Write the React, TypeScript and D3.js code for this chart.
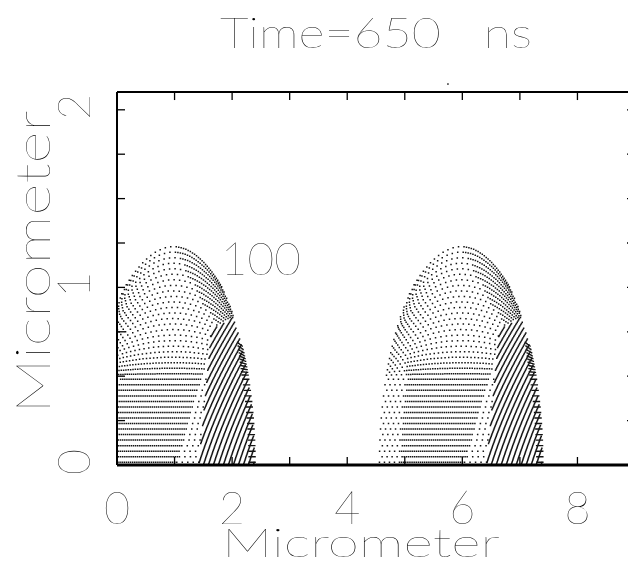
import React, { useMemo } from 'react';
import * as d3 from 'd3';

const WIDTH = 628;
const HEIGHT = 565;

// Axis extents (micrometers)
const X_DOMAIN: [number, number] = [0, 9];
const Y_DOMAIN: [number, number] = [0, 2.1];
const X_TICKS = [0, 1, 2, 3, 4, 5, 6, 7, 8, 9];
const Y_TICKS = [0, 0.25, 0.5, 0.75, 1, 1.25, 1.5, 1.75, 2];
const X_TICK_LABELS = [0, 2, 4, 6, 8];
const Y_TICK_LABELS = [0, 1, 2];

const TITLE = 'Time=650\u00a0\u00a0\u00a0ns';
const X_LABEL = 'Micrometer';
const Y_LABEL = 'Micrometer';

// Two marker-particle domes: centre position, half width, height (micrometers)
const DOME_CENTERS = [0.98, 5.98];
const DOME_HALF_WIDTH = 1.42;
const DOME_HEIGHT = 1.245;
const MARKER_ROWS = 40;

// Marker rows: apex height -> height where the row meets the free surface
// (both as fractions of the dome height)
const ROW_APEX = [0, 0.4, 0.6, 0.8, 0.9, 1];
const ROW_SURFACE = [0, 0.4, 0.5, 0.62, 0.7, 0.82];

// Contour label
const CONTOUR_LABELS = [{ text: '100', x: 2.5, y: 1.165 }];

// Isolated particles
const LONE_PARTICLES = [{ x: 5.75, y: 2.145 }];

const FONT = 'Lato, sans-serif';

type Pt = [number, number];

const STRIPE_TOP = 0.62;
const surfaceOf = d3.scaleLinear().domain(ROW_APEX).range(ROW_SURFACE);

const seamS = (v: number) => 0.31 + 0.25 * v;
const denseRight = (v: number) => 0.02 + 0.75 * v;
const denseLeft = (v: number) => -0.78 + 0.2 * v;
const urSeam = (v: number) => 1.5 * (1 - v) - 0.05;
const stripeTop = (u: number) => STRIPE_TOP + 0.2 * Math.max(0, u - 0.5);
const smooth = (e0: number, e1: number, x: number) => {
  const t = Math.min(1, Math.max(0, (x - e0) / (e1 - e0)));
  return t * t * (3 - 2 * t);
};

function spacing(u: number, v: number): number | null {
  if (v < stripeTop(u) && u > seamS(v)) return null;
  if (v > 0.5 && u > urSeam(v)) return 2.5;
  if (v < 0.6 && u > denseRight(v)) return 5.5;
  if (u < denseLeft(v)) return 5;
  return 2.1 + 3.4 * smooth(0.4, 0.58, v);
}

function buildDome(
  xc: number,
  xs: d3.ScaleLinear<number, number>,
  ys: d3.ScaleLinear<number, number>
) {
  const rows: Pt[] = [];
  const edges: Pt[] = [];
  const stripes: Pt[] = [];
  const A = DOME_HALF_WIDTH;
  const B = DOME_HEIGHT;
  const aPx = xs(xc + A) - xs(xc);
  const bPx = ys(0) - ys(B);
  const toPx = (u: number, v: number): Pt => [xs(xc + A * u), ys(B * v)];

  for (let j = 0; j < MARKER_ROWS; j++) {
    const m = (j + 0.5) / MARKER_ROWS;
    const ve = surfaceOf(m);
    const ue = Math.sqrt(1 - ve * ve);
    const rowV = (u: number) => ve + (m - ve) * Math.max(0, 1 - (u / ue) * (u / ue));
    const M = 400;
    const us: number[] = [];
    const vs: number[] = [];
    const pts: Pt[] = [];
    const cum: number[] = [0];
    for (let i = 0; i <= M; i++) {
      const u = -ue + (2 * ue * i) / M;
      const v = rowV(u);
      us.push(u);
      vs.push(v);
      pts.push(toPx(u, v));
      if (i > 0)
        cum.push(
          cum[i - 1] +
            Math.hypot(pts[i][0] - pts[i - 1][0], pts[i][1] - pts[i - 1][1])
        );
    }
    const L = cum[M];
    const at = (s: number): [number, number] => {
      let lo = 0;
      let hi = M;
      while (hi - lo > 1) {
        const mid = (lo + hi) >> 1;
        if (cum[mid] <= s) lo = mid;
        else hi = mid;
      }
      const seg = cum[hi] - cum[lo] || 1;
      const t = (s - cum[lo]) / seg;
      return [us[lo] + (us[hi] - us[lo]) * t, vs[lo] + (vs[hi] - vs[lo]) * t];
    };
    let s = (j % 2) * 2.6;
    while (s < L) {
      const [u, v] = at(s);
      const sp = spacing(u, v);
      if (sp === null) {
        s += 1;
        continue;
      }
      rows.push(toPx(u, v));
      s += sp;
    }
    if (ve < 0.55) {
      for (let d = 0; d <= 7; d += 1.2) {
        const [u, v] = at(Math.max(0, L - d));
        edges.push(toPx(u, v));
      }
    }
  }

  const hTop = (STRIPE_TOP + 0.1) * bPx;
  for (let x0 = -30; x0 <= aPx; x0 += 5) {
    for (let h = 0; h <= hTop; h += 1.2) {
      const dx = x0 + 0.32 * h + 0.001 * h * h;
      const u = dx / aPx;
      const v = h / bPx;
      if (u > seamS(v) && v < stripeTop(u) && u * u + v * v < 0.985) {
        stripes.push([xs(xc) + dx, ys(0) - h]);
      }
    }
  }
  return { rows, edges, stripes };
}

const dotPath = (pts: Pt[], size: number) =>
  pts
    .map(([x, y]) => `M${(x - size / 2).toFixed(2)},${(y - size / 2).toFixed(2)}h${size}v${size}h-${size}z`)
    .join('');

export default function App() {
  const xs = d3.scaleLinear().domain(X_DOMAIN).range([117, 635]);
  const ys = d3.scaleLinear().domain(Y_DOMAIN).range([465, 92.04]);

  const domes = useMemo(() => DOME_CENTERS.map((c) => buildDome(c, xs, ys)), []);

  const left = xs(X_DOMAIN[0]);
  const right = xs(X_DOMAIN[1]);
  const top = ys(Y_DOMAIN[1]);
  const bottom = ys(Y_DOMAIN[0]);
  const tick = 8;

  return (
    <svg
      width={WIDTH}
      height={HEIGHT}
      style={{ position: 'absolute', left: 0, top: 0, background: '#fff' }}
    >
      <defs>
        <clipPath id="plot-area">
          <rect x={left} y={top} width={right - left} height={bottom - top} />
        </clipPath>
      </defs>
      <rect width={WIDTH} height={HEIGHT} fill="#fff" />

      <g clipPath="url(#plot-area)" fill="#141414">
        {domes.map((d, i) => (
          <g key={i}>
            <path d={dotPath(d.rows, 1.5)} />
            <path d={dotPath(d.edges, 1.4)} />
            <path d={dotPath(d.stripes, 1.5)} />
          </g>
        ))}
      </g>

      {LONE_PARTICLES.map((p, i) => (
        <rect key={i} x={xs(p.x) - 0.8} y={ys(p.y) - 0.8} width={1.6} height={1.6} fill="#333" />
      ))}

      {/* frame */}
      <g stroke="#000" fill="none">
        <line x1={left} x2={left} y1={top} y2={bottom} strokeWidth={2} />
        <line x1={left} x2={right} y1={top} y2={top} strokeWidth={2} />
        <line x1={right} x2={right} y1={top} y2={bottom} strokeWidth={2} />
        <line x1={left} x2={right} y1={bottom} y2={bottom} strokeWidth={3} />
        {X_TICKS.map((t) => (
          <g key={`xt${t}`} strokeWidth={1.3}>
            <line x1={xs(t)} x2={xs(t)} y1={top} y2={top + tick} />
            <line x1={xs(t)} x2={xs(t)} y1={bottom} y2={bottom - tick} />
          </g>
        ))}
        {Y_TICKS.map((t) => (
          <g key={`yt${t}`} strokeWidth={1.3}>
            <line x1={left} x2={left + tick} y1={ys(t)} y2={ys(t)} />
            <line x1={right} x2={right - tick} y1={ys(t)} y2={ys(t)} />
          </g>
        ))}
      </g>

      <g fill="#000" fontFamily={FONT} fontWeight={200} opacity={0.995}>
        {X_TICK_LABELS.map((t) => (
          <text key={`xl${t}`} x={xs(t)} y={524} textAnchor="middle" fontSize={45}>
            {t}
          </text>
        ))}
        {Y_TICK_LABELS.map((t) => (
          <text
            key={`yl${t}`}
            transform={`translate(90, ${ys(t) - 3}) rotate(-90)`}
            textAnchor="middle"
            fontSize={45}
          >
            {t}
          </text>
        ))}

        {CONTOUR_LABELS.map((l) => (
          <text key={l.text} x={xs(l.x)} y={ys(l.y) + 17} textAnchor="middle" fontSize={46}>
            {l.text}
          </text>
        ))}

        <text x={376} y={48} textAnchor="middle" fontSize={42} textLength={312} lengthAdjust="spacingAndGlyphs">
          {TITLE}
        </text>
        <text x={361} y={557} textAnchor="middle" fontSize={40} textLength={278} lengthAdjust="spacingAndGlyphs">
          {X_LABEL}
        </text>
        <text
          transform="translate(50, 262) rotate(-90)"
          textAnchor="middle"
          fontSize={47}
          textLength={303}
          lengthAdjust="spacingAndGlyphs"
        >
          {Y_LABEL}
        </text>
      </g>
    </svg>
  );
}
